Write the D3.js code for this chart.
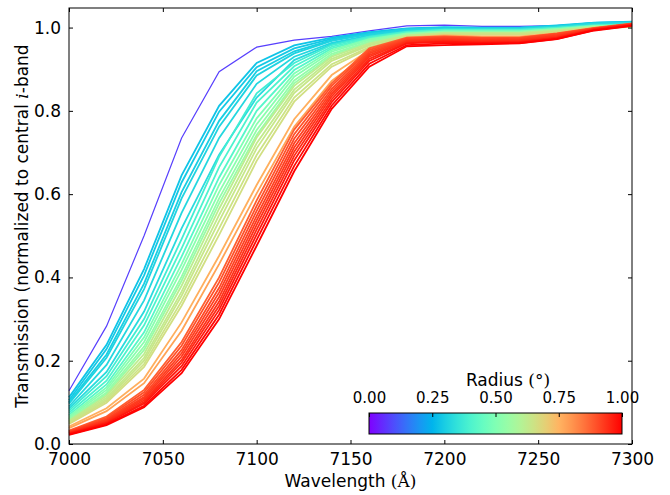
<!doctype html>
<html lang="en">
<head>
  <meta charset="utf-8">
  <title>Transmission vs wavelength</title>
  <script src="https://cdnjs.cloudflare.com/ajax/libs/d3/7.8.5/d3.min.js"></script>
  <style>
    body { margin: 0; background: #fff; }
    text { font-family: "DejaVu Sans", sans-serif; fill: #000; }
  </style>
</head>
<body>
<svg width="670" height="495" id="svg"></svg>
<script>

// wavelength grid (Angstrom)
var wavelengths = [7000,7020,7040,7060,7080,7100,7120,7140,7160,7180,7200,7220,7240,7260,7280,7300];

// radius of each curve (degrees)
var radii = [0.08,
  0.28,0.29,0.30,0.31,0.32,0.33,
  0.38,0.40,0.42,
  0.50,0.52,0.54,0.55,
  0.62,0.63,0.64,0.65,0.66,
  0.76,0.78,
  0.88,0.90,0.91,0.92,0.93,0.94,0.95,0.97,0.99,1.00];

// transmission curves, one row per radius
var transmission = [
  [0.128,0.283,0.500,0.735,0.894,0.953,0.970,0.979,0.992,1.004,1.006,1.003,1.003,1.005,1.010,1.010],
  [0.112,0.238,0.420,0.645,0.812,0.915,0.957,0.976,0.989,0.998,1.001,1.000,1.000,1.005,1.012,1.014],
  [0.105,0.228,0.405,0.628,0.798,0.905,0.950,0.973,0.987,0.997,1.000,0.999,0.999,1.004,1.011,1.013],
  [0.100,0.215,0.385,0.605,0.776,0.895,0.943,0.970,0.985,0.996,0.999,0.998,0.998,1.003,1.011,1.013],
  [0.097,0.207,0.372,0.590,0.762,0.885,0.938,0.968,0.984,0.995,0.998,0.998,0.998,1.003,1.010,1.012],
  [0.090,0.190,0.345,0.555,0.735,0.865,0.930,0.963,0.981,0.993,0.997,0.997,0.997,1.002,1.010,1.012],
  [0.085,0.173,0.318,0.518,0.695,0.832,0.922,0.960,0.978,0.991,0.996,0.996,0.996,1.001,1.009,1.011],
  [0.080,0.163,0.300,0.492,0.690,0.842,0.915,0.958,0.978,0.990,0.995,0.995,0.995,1.000,1.006,1.008],
  [0.075,0.152,0.285,0.470,0.665,0.820,0.907,0.954,0.976,0.989,0.994,0.994,0.994,0.999,1.005,1.007],
  [0.070,0.143,0.268,0.450,0.640,0.800,0.898,0.950,0.974,0.988,0.993,0.993,0.993,0.998,1.004,1.006],
  [0.066,0.136,0.256,0.432,0.622,0.782,0.890,0.946,0.972,0.986,0.991,0.991,0.991,0.997,1.004,1.006],
  [0.063,0.130,0.245,0.418,0.605,0.768,0.882,0.942,0.970,0.985,0.990,0.990,0.990,0.996,1.003,1.005],
  [0.060,0.124,0.234,0.402,0.590,0.754,0.873,0.937,0.967,0.984,0.989,0.989,0.989,0.995,1.003,1.005],
  [0.058,0.120,0.226,0.392,0.578,0.742,0.866,0.933,0.965,0.983,0.988,0.988,0.988,0.995,1.002,1.004],
  [0.056,0.116,0.216,0.380,0.565,0.736,0.860,0.930,0.962,0.981,0.987,0.987,0.987,0.993,1.001,1.004],
  [0.054,0.111,0.207,0.366,0.550,0.722,0.851,0.925,0.959,0.980,0.986,0.986,0.986,0.992,1.000,1.003],
  [0.052,0.107,0.200,0.356,0.535,0.710,0.843,0.920,0.957,0.979,0.985,0.985,0.985,0.991,1.000,1.003],
  [0.050,0.103,0.192,0.343,0.518,0.694,0.832,0.912,0.953,0.977,0.984,0.984,0.984,0.990,0.999,1.002],
  [0.048,0.099,0.185,0.332,0.502,0.680,0.822,0.906,0.950,0.976,0.983,0.983,0.983,0.989,0.998,1.002],
  [0.042,0.086,0.157,0.292,0.452,0.622,0.780,0.886,0.946,0.976,0.981,0.979,0.979,0.986,0.999,1.006],
  [0.038,0.079,0.146,0.272,0.432,0.602,0.762,0.872,0.940,0.973,0.979,0.977,0.977,0.984,0.998,1.006],
  [0.032,0.066,0.130,0.245,0.400,0.585,0.755,0.866,0.950,0.976,0.979,0.976,0.976,0.986,0.999,1.010],
  [0.031,0.063,0.124,0.236,0.388,0.572,0.744,0.860,0.946,0.974,0.977,0.975,0.975,0.985,0.998,1.009],
  [0.030,0.060,0.118,0.226,0.375,0.560,0.733,0.853,0.942,0.972,0.976,0.974,0.974,0.984,0.998,1.009],
  [0.029,0.058,0.113,0.218,0.364,0.548,0.722,0.847,0.938,0.970,0.974,0.972,0.973,0.982,0.997,1.008],
  [0.028,0.056,0.109,0.210,0.353,0.537,0.712,0.841,0.934,0.968,0.972,0.970,0.971,0.980,0.997,1.008],
  [0.027,0.054,0.105,0.202,0.342,0.526,0.702,0.835,0.930,0.966,0.970,0.968,0.969,0.978,0.996,1.007],
  [0.026,0.052,0.101,0.195,0.332,0.515,0.692,0.828,0.925,0.964,0.968,0.966,0.967,0.976,0.996,1.007],
  [0.025,0.050,0.097,0.187,0.322,0.503,0.681,0.821,0.920,0.962,0.966,0.964,0.965,0.975,0.995,1.006],
  [0.023,0.047,0.092,0.178,0.311,0.490,0.668,0.813,0.913,0.958,0.962,0.962,0.963,0.973,0.994,1.005],
  [0.022,0.045,0.088,0.170,0.300,0.476,0.655,0.805,0.906,0.955,0.958,0.960,0.962,0.972,0.993,1.004]
];

var xTicks = [7000,7050,7100,7150,7200,7250,7300];
var yTicks = [0.0,0.2,0.4,0.6,0.8,1.0];
var cbTicks = [0.00,0.25,0.50,0.75,1.00];

// matplotlib "rainbow" colormap
function rainbow(t) {
  var c = function(v) { return Math.max(0, Math.min(1, v)) * 255; };
  return d3.rgb(c(Math.abs(2*t - 0.5)), c(Math.sin(Math.PI*t)), c(Math.cos(Math.PI*t/2))).toString();
}

var pLeft = 69, pRight = 632, pTop = 8, pBottom = 444;
var svg = d3.select('#svg');

var x = d3.scaleLinear().domain([7000,7300]).range([pLeft,pRight]);
var y = d3.scaleLinear().domain([0,1.047]).range([pBottom,pTop]);
var color = d3.scaleSequential(rainbow).domain([0,1]);

var line = d3.line()
  .x(function(d,i) { return x(wavelengths[i]); })
  .y(function(d) { return y(d); });

svg.append('g').selectAll('path')
  .data(transmission)
  .enter()
  .append('path')
  .attr('d', line)
  .attr('fill','none')
  .attr('stroke', function(d,i) { return color(radii[i]); })
  .attr('stroke-width', function(d,i) { return i == 0 ? 1.2 : 1.8; })
  .attr('stroke-linejoin','miter');

// axes, ticks pointing inward on all four sides
function styleAxis(g) {
  g.select('.domain').remove();
  g.selectAll('line').attr('stroke','#000').attr('stroke-width',1);
  g.selectAll('text').style('font-size','17px');
}

svg.append('g')
  .attr('transform','translate(0,'+pBottom+')')
  .call(d3.axisBottom(x).tickValues(xTicks).tickSizeInner(-4).tickSizeOuter(0).tickPadding(9).tickFormat(d3.format('d')))
  .call(styleAxis);
svg.append('g')
  .attr('transform','translate(0,'+pTop+')')
  .call(d3.axisTop(x).tickValues(xTicks).tickSizeInner(-4).tickSizeOuter(0).tickFormat(''))
  .call(styleAxis);
svg.append('g')
  .attr('transform','translate('+pLeft+',0)')
  .call(d3.axisLeft(y).tickValues(yTicks).tickSizeInner(-4).tickSizeOuter(0).tickPadding(8).tickFormat(d3.format('.1f')))
  .call(styleAxis);
svg.append('g')
  .attr('transform','translate('+pRight+',0)')
  .call(d3.axisRight(y).tickValues(yTicks).tickSizeInner(-4).tickSizeOuter(0).tickFormat(''))
  .call(styleAxis);

svg.append('rect')
  .attr('x',pLeft).attr('y',pTop)
  .attr('width',pRight-pLeft).attr('height',pBottom-pTop)
  .attr('fill','none').attr('stroke','#000').attr('stroke-width',1);

// axis labels
var xl = svg.append('text')
  .attr('x',(pLeft+pRight)/2).attr('y',487)
  .attr('text-anchor','middle')
  .style('font-size','17px');
xl.append('tspan').text('Wavelength ');
xl.append('tspan').style('font-family','"DejaVu Serif", serif').text('(Å)');

var yl = svg.append('text')
  .attr('transform','translate(28,'+((pTop+pBottom)/2)+') rotate(-90)')
  .attr('text-anchor','middle')
  .style('font-size','17px');
yl.append('tspan').text('Transmission (normalized to central ');
yl.append('tspan').style('font-family','"DejaVu Serif", serif').style('font-style','italic').text('i');
yl.append('tspan').text('-band');

// colorbar
var cbLeft = 369, cbRight = 622, cbTop = 413, cbBottom = 434;
var cb = d3.scaleLinear().domain([0,1]).range([cbLeft,cbRight]);

var grad = svg.append('defs').append('linearGradient')
  .attr('id','rainbowGrad').attr('x1','0%').attr('x2','100%');
grad.selectAll('stop')
  .data(d3.range(0,1.0001,0.05))
  .enter()
  .append('stop')
  .attr('offset', function(d) { return (d*100)+'%'; })
  .attr('stop-color', function(d) { return color(d); });

svg.append('rect')
  .attr('x',cbLeft).attr('y',cbTop)
  .attr('width',cbRight-cbLeft).attr('height',cbBottom-cbTop)
  .attr('fill','url(#rainbowGrad)')
  .attr('stroke','#000').attr('stroke-width',1);

svg.append('g')
  .attr('transform','translate(0,'+cbTop+')')
  .call(d3.axisTop(cb).tickValues(cbTicks).tickSizeInner(-4).tickSizeOuter(0).tickPadding(10).tickFormat(d3.format('.2f')))
  .call(styleAxis)
  .selectAll('text').style('font-size','15px');

var cl = svg.append('text')
  .attr('x',508).attr('y',386)
  .attr('text-anchor','middle')
  .style('font-size','17px');
cl.append('tspan').text('Radius ');
cl.append('tspan').style('font-family','"DejaVu Serif", serif').text('(°)');

</script>
</body>
</html>
